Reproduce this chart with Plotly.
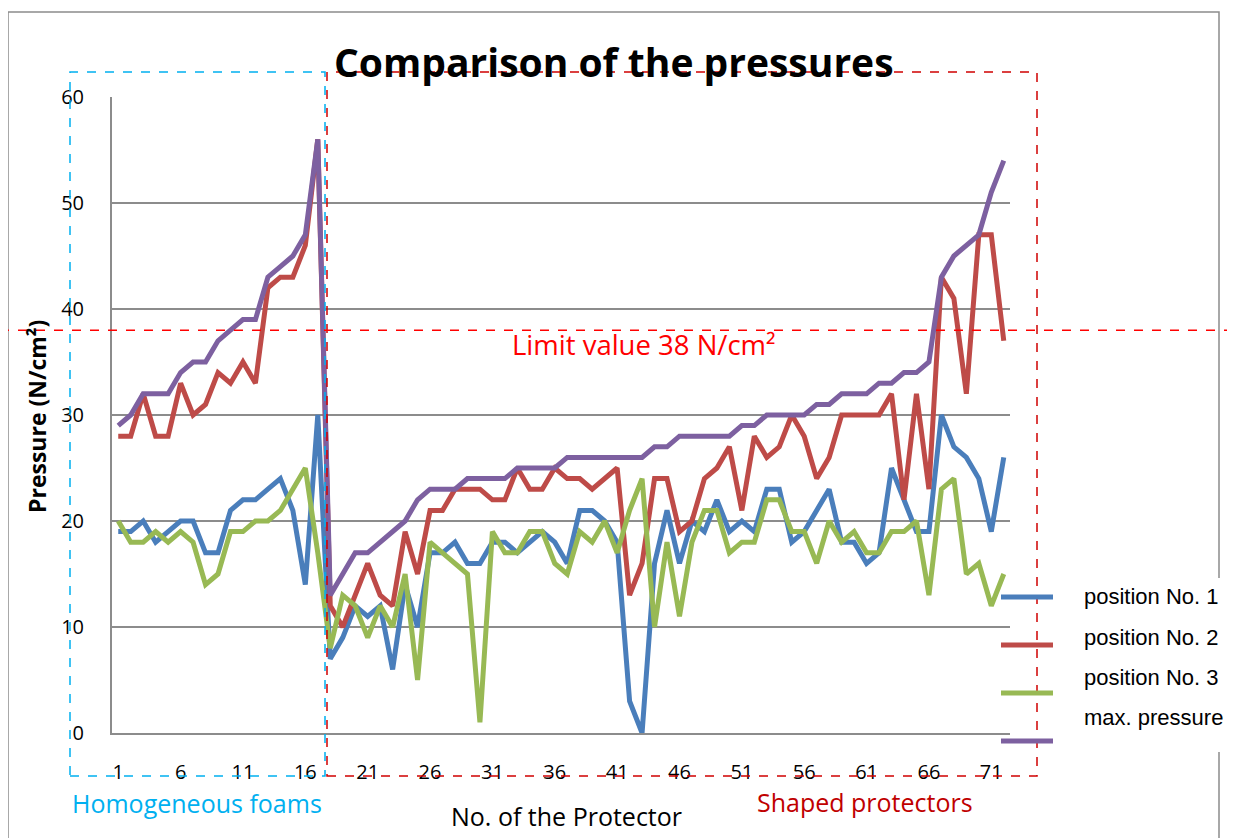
import plotly.graph_objects as go

# data
protector_no = list(range(1, 73))
position_1 = [19, 19, 20, 18, 19, 20, 20, 17, 17, 21, 22, 22, 23, 24, 21, 14, 30, 7, 9, 12,
              11, 12, 6, 14, 10, 17, 17, 18, 16, 16, 18, 18, 17, 18, 19, 18, 16, 21, 21, 20,
              18, 3, 0, 16, 21, 16, 20, 19, 22, 19, 20, 19, 23, 23, 18, 19, 21, 23, 18, 18,
              16, 17, 25, 22, 19, 19, 30, 27, 26, 24, 19, 26]
position_2 = [28, 28, 32, 28, 28, 33, 30, 31, 34, 33, 35, 33, 42, 43, 43, 46, 56, 12, 10, 13,
              16, 13, 12, 19, 15, 21, 21, 23, 23, 23, 22, 22, 25, 23, 23, 25, 24, 24, 23, 24,
              25, 13, 16, 24, 24, 19, 20, 24, 25, 27, 21, 28, 26, 27, 30, 28, 24, 26, 30, 30,
              30, 30, 32, 22, 32, 23, 43, 41, 32, 47, 47, 37]
position_3 = [20, 18, 18, 19, 18, 19, 18, 14, 15, 19, 19, 20, 20, 21, 23, 25, 17, 8, 13, 12,
              9, 12, 10, 15, 5, 18, 17, 16, 15, 1, 19, 17, 17, 19, 19, 16, 15, 19, 18, 20,
              17, 21, 24, 10, 18, 11, 18, 21, 21, 17, 18, 18, 22, 22, 19, 19, 16, 20, 18, 19,
              17, 17, 19, 19, 20, 13, 23, 24, 15, 16, 12, 15]
max_pressure = [29, 30, 32, 32, 32, 34, 35, 35, 37, 38, 39, 39, 43, 44, 45, 47, 56, 13, 15, 17,
                17, 18, 19, 20, 22, 23, 23, 23, 24, 24, 24, 24, 25, 25, 25, 25, 26, 26, 26, 26,
                26, 26, 26, 27, 27, 28, 28, 28, 28, 28, 29, 29, 30, 30, 30, 30, 31, 31, 32, 32,
                32, 33, 33, 34, 34, 35, 43, 45, 46, 47, 51, 54]
limit_value = 38
x_ticks = [1, 6, 11, 16, 21, 26, 31, 36, 41, 46, 51, 56, 61, 66, 71]

series = [
    ('position No. 1', position_1, '#4A7EBB'),
    ('position No. 2', position_2, '#BE4B48'),
    ('position No. 3', position_3, '#98B954'),
    ('max. pressure', max_pressure, '#7D60A0'),
]

# the page puts the plot 8px in from the top-left corner
OFF = 8
W, H = 1235 - OFF, 838 - OFF
ML, MT = 112 - OFF, 97 - OFF
MR, MB = W - (1010 - OFF), H - (733 - OFF)
PW, PH = W - ML - MR, H - MT - MB


def fx(px):
    return (px - OFF - ML) / PW


def fy(py):
    return 1 - (py - OFF - MT) / PH


fig = go.Figure()
for nome, valores, cor in series:
    fig.add_trace(go.Scatter(x=protector_no, y=valores, mode='lines', name=nome,
                             line=dict(color=cor, width=5)))

shapes = [
    # moldura do grafico
    dict(type='rect', xref='paper', yref='paper', x0=fx(8), x1=fx(1219), y0=fy(850), y1=fy(12),
         line=dict(color='#8c8c8c', width=1.5)),
    dict(type='rect', xref='paper', yref='paper', x0=fx(1062), x1=fx(1240), y0=fy(752), y1=fy(578),
         fillcolor='white', line=dict(width=0)),
    # caixas dos grupos
    dict(type='rect', xref='paper', yref='paper', x0=fx(70), x1=fx(325), y0=fy(776), y1=fy(72),
         line=dict(color='#00B0F0', width=1.5, dash='dash')),
    dict(type='rect', xref='paper', yref='paper', x0=fx(327), x1=fx(1037), y0=fy(776), y1=fy(72),
         line=dict(color='#D00000', width=1.5, dash='dash')),
    # limite
    dict(type='line', xref='paper', yref='y', x0=fx(0), x1=fx(1240), y0=limit_value, y1=limit_value,
         line=dict(color='#FF0000', width=1.5, dash='dash')),
]

annotations = [
    dict(text='<b>Comparison of the pressures</b>', x=fx(614), y=fy(62), xanchor='center',
         font=dict(size=39, color='black', family='Open Sans')),
    dict(text=f'Limit value {limit_value} N/cm²', x=fx(510), y=fy(344), xanchor='left',
         font=dict(size=27.5, color='#FF0000', family='Open Sans')),
    dict(text='Homogeneous foams', x=fx(70), y=fy(803), xanchor='left',
         font=dict(size=25, color='#00B0F0', family='Open Sans')),
    dict(text='Shaped protectors', x=fx(755), y=fy(802), xanchor='left',
         font=dict(size=25, color='#C00000', family='Open Sans')),
    dict(text='No. of the Protector', x=fx(566), y=fy(816), xanchor='center',
         font=dict(size=25, color='black', family='Open Sans')),
    dict(text='<b>Pressure (N/cm²)</b>', x=fx(37), y=fy(417), xanchor='center', textangle=-90,
         font=dict(size=23, color='black', family='Open Sans')),
]

legend_y = [597, 645, 693, 741]
label_y = [596, 637, 677, 717]
for (nome, _, cor), ly, ty in zip(series, legend_y, label_y):
    shapes.append(dict(type='line', xref='paper', yref='paper', x0=fx(1001), x1=fx(1053),
                       y0=fy(ly), y1=fy(ly), line=dict(color=cor, width=5)))
    annotations.append(dict(text=nome, x=fx(1082), y=fy(ty), xanchor='left',
                            font=dict(size=22, color='black', family='Liberation Sans')))

for a in annotations:
    a.update(xref='paper', yref='paper', showarrow=False, yanchor='middle')

fig.update_layout(
    width=W, height=H,
    margin=dict(l=ML, r=MR, t=MT, b=MB),
    plot_bgcolor='white', paper_bgcolor='white',
    showlegend=False,
    shapes=shapes,
    annotations=annotations,
    font=dict(family='Open Sans', color='black'),
)
fig.update_xaxes(range=[0.5, 72.5], tickvals=x_ticks, showgrid=False, zeroline=False,
                 showline=True, linecolor='#8c8c8c', linewidth=2,
                 tickfont=dict(size=20, color='black'), ticklabelstandoff=20)
fig.update_yaxes(range=[0, 60], dtick=10, showgrid=True, gridcolor='#8c8c8c', gridwidth=1.5,
                 zeroline=False, showline=True, linecolor='#8c8c8c', linewidth=2,
                 tickfont=dict(size=20, color='black'), ticklabelstandoff=22)

fig.write_html('out.html')
